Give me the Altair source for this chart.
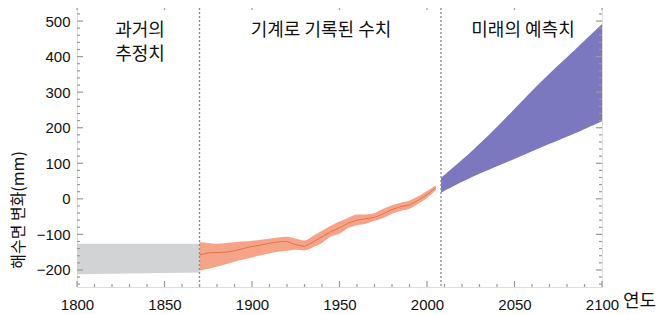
import altair as alt
import pandas as pd

# ---- data ----
past_years = [1800, 1870]
past_upper = [-126, -126]
past_lower = [-212, -207]

obs_years = [1870, 1875, 1880, 1885, 1890, 1895, 1900, 1905, 1910, 1915, 1920, 1925, 1930, 1935,
             1940, 1945, 1950, 1955, 1960, 1965, 1970, 1975, 1980, 1985, 1990, 1995, 2000, 2005]
obs_upper = [-122, -124, -126, -124, -122, -120, -118, -115, -112, -109, -107, -112, -117, -104,
             -90, -76, -64, -53, -44, -44, -40, -28, -18, -11, -5, 7, 22, 38]
obs_lower = [-202, -197, -191, -184, -177, -171, -165, -159, -154, -149, -146, -143, -145, -136,
             -124, -106, -98, -82, -74, -70, -62, -54, -42, -34, -28, -14, 2, 24]
obs_center = [-158, -152, -151, -150, -146, -140, -134, -130, -125, -121, -120, -129, -134, -121,
              -107, -92, -82, -68, -60, -56, -52, -42, -30, -22, -17, -4, 12, 31]

proj_years = [2008, 2025, 2045, 2064, 2083, 2100]
proj_upper = [59, 129, 226, 326, 412, 492]
proj_lower = [17, 62, 101, 143, 180, 218]

boundary_years = [1870, 2008]
x_tick_labels = [1800, 1850, 1900, 1950, 2000, 2050, 2100]
y_tick_labels = [-200, -100, 0, 100, 200, 300, 400, 500]
x_minor = list(range(1800, 2101, 10))
y_minor = list(range(-240, 541, 20))

W, H = 525, 283
XDOM = [1800, 2100]
YDOM = [-248, 548]
NUM_FONT = "Liberation Sans"
KR_FONT = "Noto Sans CJK KR"

past = pd.DataFrame({"year": past_years, "upper": past_upper, "lower": past_lower})
obs = pd.DataFrame({"year": obs_years, "upper": obs_upper, "lower": obs_lower, "center": obs_center})
proj = pd.DataFrame({"year": proj_years, "upper": proj_upper, "lower": proj_lower})
bounds = pd.DataFrame({"year": boundary_years})

xs = alt.Scale(domain=XDOM, nice=False, zero=False)
ys = alt.Scale(domain=YDOM, nice=False, zero=False)

x_axis = alt.Axis(values=x_tick_labels, ticks=False, domain=False, grid=False, format="d",
                  labelFont=NUM_FONT, labelFontSize=15, labelColor="#111", labelPadding=10,
                  labelFlush=False,
                  title="연도", titleFont=KR_FONT, titleFontSize=18, titleFontWeight="normal",
                  titleColor="#111", titleX=562, titleY=14, titleAlign="center", titleBaseline="middle")
y_axis = alt.Axis(values=y_tick_labels, ticks=False, domain=False, grid=False,
                  labelFont=NUM_FONT, labelFontSize=15, labelColor="#111", labelPadding=7,
                  labelFlush=False, title=None)

base_x = alt.X("year:Q", scale=xs, axis=x_axis)

past_area = alt.Chart(past).mark_area(color="#d1d3d4", opacity=1).encode(
    x=base_x,
    y=alt.Y("upper:Q", scale=ys, axis=y_axis),
    y2="lower:Q",
)
obs_area = alt.Chart(obs).mark_area(color="#f6a487", opacity=1, interpolate="monotone").encode(
    x=alt.X("year:Q", scale=xs), y=alt.Y("upper:Q", scale=ys), y2="lower:Q")
obs_line = alt.Chart(obs).mark_line(color="#e8704f", strokeWidth=1, interpolate="linear").encode(
    x=alt.X("year:Q", scale=xs), y=alt.Y("center:Q", scale=ys))
proj_area = alt.Chart(proj).mark_area(color="#7b78bf", opacity=1, interpolate="basis").encode(
    x=alt.X("year:Q", scale=xs), y=alt.Y("upper:Q", scale=ys), y2="lower:Q")

bound_rules = alt.Chart(bounds).mark_rule(color="#8f8f8f", strokeDash=[2, 2], strokeWidth=1.4).encode(
    x=alt.X("year:Q", scale=xs))

tick_color = "#9a9a9a"
xt_minor = pd.DataFrame({"year": [y for y in x_minor if y % 50 != 0]})
xt_major = pd.DataFrame({"year": [y for y in x_minor if y % 50 == 0]})
yt_minor = pd.DataFrame({"v": [v for v in y_minor if v % 100 != 0]})
yt_major = pd.DataFrame({"v": [v for v in y_minor if v % 100 == 0]})


def xticks(df, L):
    bot = alt.Chart(df).mark_rule(color=tick_color, strokeWidth=1.2).encode(
        x=alt.X("year:Q", scale=xs), y=alt.value(H), y2=alt.value(H - L))
    top = alt.Chart(df).mark_rule(color=tick_color, strokeWidth=1.2).encode(
        x=alt.X("year:Q", scale=xs), y=alt.value(0), y2=alt.value(L))
    return [bot, top]


def yticks(df, L):
    left = alt.Chart(df).mark_rule(color=tick_color, strokeWidth=1.2).encode(
        y=alt.Y("v:Q", scale=ys), x=alt.value(0), x2=alt.value(L))
    right = alt.Chart(df).mark_rule(color=tick_color, strokeWidth=1.2).encode(
        y=alt.Y("v:Q", scale=ys), x=alt.value(W), x2=alt.value(W - L))
    return [left, right]


tick_layers = xticks(xt_minor, 3) + xticks(xt_major, 6) + yticks(yt_minor, 3) + yticks(yt_major, 6)

label_src = pd.DataFrame({"d": [0]})


def note(text, px, py, size=18, angle=0):
    return alt.Chart(label_src).mark_text(
        text=text, font=KR_FONT, fontSize=size, color="#111", align="center",
        baseline="middle", angle=angle, lineHeight=24).encode(x=alt.value(px), y=alt.value(py))


notes = [
    note(["과거의", "추정치"], 63, 27),
    note("기계로 기록된 수치", 244, 27),
    note("미래의 예측치", 446, 27),
    note("해수면 변화(mm)", -58, 206, size=16, angle=270),
]

chart = alt.layer(past_area, obs_area, obs_line, proj_area, bound_rules, *tick_layers, *notes).properties(
    width=W, height=H,
    autosize=alt.AutoSizeParams(type="none"),
    padding={"left": 69, "top": -4, "right": 56, "bottom": 26},
).configure_view(stroke="#9a9a9a", strokeWidth=1.5).configure(background="white")

chart.save("out.html", embed_options={"renderer": "svg", "actions": False})
